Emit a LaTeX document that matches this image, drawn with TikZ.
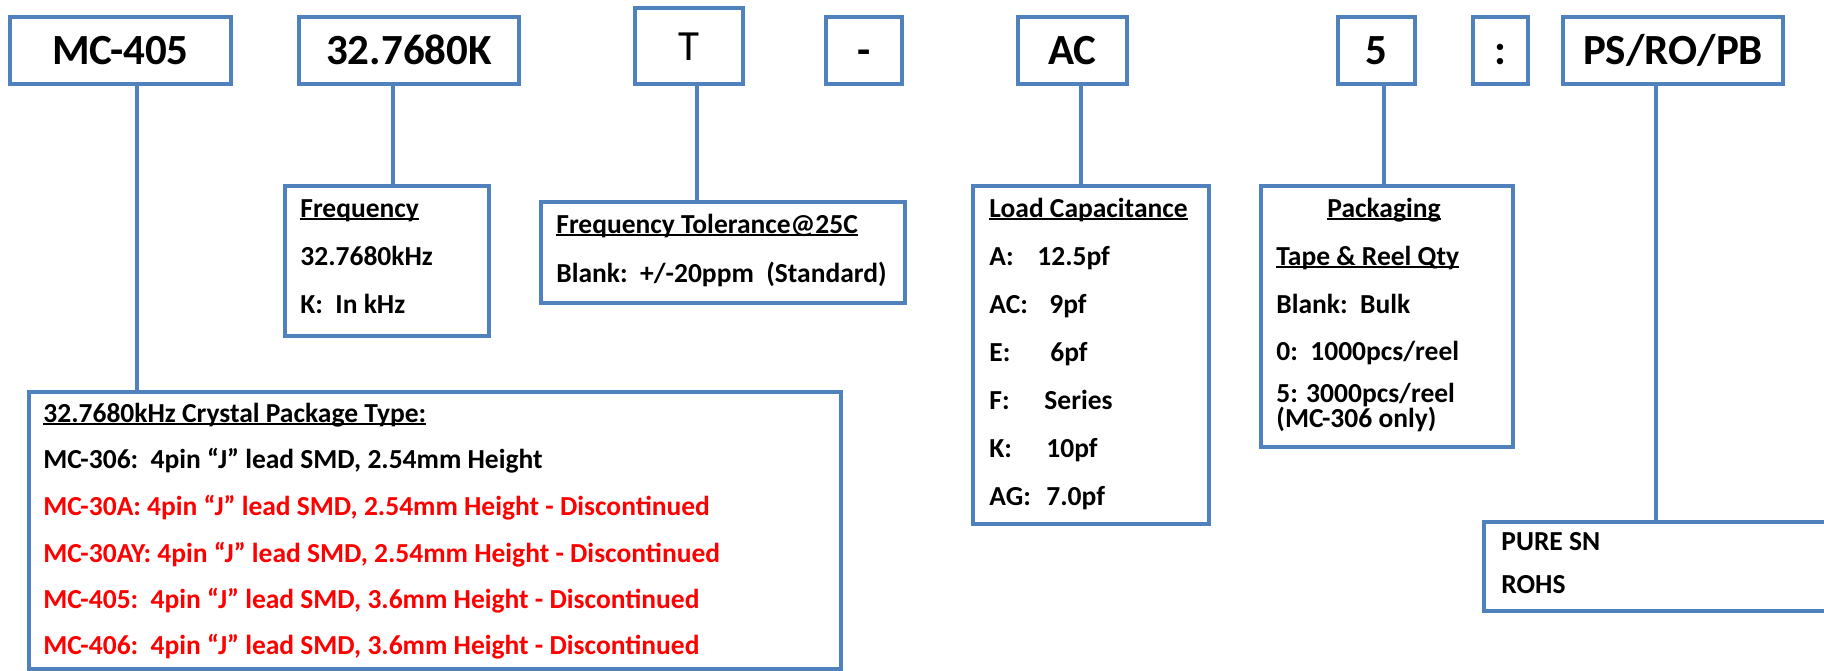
\documentclass[tikz,border=0pt]{standalone}
\usepackage{fontspec}
\setmainfont{Carlito}
\usepackage{xcolor}
\definecolor{boxblue}{HTML}{4F81BD}
\definecolor{partred}{HTML}{FF0000}
\newcommand{\ulbar}[1]{\setbox0\hbox{#1}\rlap{\rule[-1.4pt]{\wd0}{0.8pt}}\box0}

\tikzset{
  size/.style 2 args={minimum width=#1*0.5pt, minimum height=#2*0.5pt},
  codebox/.style={draw=boxblue, line width=2pt, inner sep=0pt, text height=14pt, text depth=0pt,
    font=\fontsize{21.5}{24}\selectfont\bfseries},
  infobox/.style={draw=boxblue, line width=2pt, inner sep=0pt, anchor=north west},
  tap/.style={boxblue, line width=2pt},
  entry/.style={anchor=base west, inner sep=0pt, font=\fontsize{13.75}{16}\selectfont\bfseries},
}

\begin{document}
\begin{tikzpicture}[x=0.5pt, y=-0.5pt]
    \useasboundingbox (0,0) rectangle (1824,670);
    \clip (0,0) rectangle (1824,670);

    % Part number code boxes
    \foreach \n/\t/\x/\w in {mc/MC-405/120.5/221, freqcode/32.7680K/409/220, dash/-/864/76,
        loadcode/AC/1072.5/109, packcode/5/1376.5/77, colon/:/1500.5/55, platecode/PS\slash RO\slash PB/1673/220} {
        \node[codebox, size={\w}{67}] (\n) at (\x,50.5) {\t};
    }
    \node[codebox, size={108}{76}, font=\fontsize{21.5}{24}\selectfont] (tolcode) at (689,46) {T};

    % Description boxes
    \node[infobox, size={204}{150}] (freqinfo) at (283,184) {};
    \node[infobox, size={364}{101}] (tolinfo) at (539,200) {};
    \node[infobox, size={236}{338}] (loadinfo) at (971,184) {};
    \node[infobox, size={252}{261}] (packinfo) at (1259,184) {};
    \node[infobox, size={812}{277}] (pkginfo) at (27,390) {};
    \node[infobox, size={418}{89}] (plateinfo) at (1482,520) {};

    % Connectors
    \draw[tap] (mc.south -| 137,0) -- (pkginfo.north -| 137,0);
    \draw[tap] (freqcode.south -| 393,0) -- (freqinfo.north -| 393,0);
    \draw[tap] (tolcode.south -| 697,0) -- (tolinfo.north -| 697,0);
    \draw[tap] (loadcode.south -| 1081,0) -- (loadinfo.north -| 1081,0);
    \draw[tap] (packcode.south -| 1384,0) -- (packinfo.north -| 1384,0);
    \draw[tap] (platecode.south -| 1656,0) -- (plateinfo.north -| 1656,0);

    % Frequency
    \foreach \i/\y/\t in {1/217/{\ulbar{Frequency}}, 2/265/32.7680kHz, 3/313/{K:\ \ In kHz}} {
        \node[entry] (freq\i) at (300,\y) {\t};
    }

    % Tolerance
    \node[entry] (tol1) at (556,233) {\ulbar{Frequency Tolerance@25C}};
    \node[entry] (tol2) at (556,282) {Blank:\ \ +/-20ppm\ \ (Standard)};

    % Load capacitance
    \node[entry] (load0) at (989,217) {\ulbar{Load Capacitance}};
    \foreach \i/\k/\v/\vx/\y in {1/A:/12.5pf/1037/265, 2/AC:/9pf/1049/313, 3/E:/6pf/1050/361,
        4/F:/Series/1044/409, 5/K:/10pf/1046/457, 6/AG:/7.0pf/1046/505} {
        \node[entry] (lk\i) at (989,\y) {\k};
        \node[entry] (lv\i) at (\vx,\y) {\v};
    }

    % Packaging
    \node[entry, anchor=base] (pack0) at (1384,217) {\ulbar{Packaging}};
    \foreach \i/\y/\t in {1/265/{\ulbar{Tape \& Reel Qty}}, 2/313/{Blank:\ \ Bulk}, 3/360/{0:\ \ 1000pcs/reel},
        4/402/{5: 3000pcs/reel}, 5/427/{(MC-306 only)}} {
        \node[entry] (pack\i) at (1276,\y) {\t};
    }

    % Package type
    \foreach \i/\y/\c/\t in {1/422/black/{\ulbar{32.7680kHz Crystal Package Type:}},
        2/468/black/{MC-306:\ \ 4pin “J” lead SMD, 2.54mm Height},
        3/515/partred/{MC-30A: 4pin “J” lead SMD, 2.54mm Height - Discontinued},
        4/562/partred/{MC-30AY: 4pin “J” lead SMD, 2.54mm Height - Discontinued},
        5/608/partred/{MC-405:\ \ 4pin “J” lead SMD, 3.6mm Height - Discontinued},
        6/654/partred/{MC-406:\ \ 4pin “J” lead SMD, 3.6mm Height - Discontinued}} {
        \node[entry, text=\c] (pkg\i) at (43,\y) {\t};
    }

    % Plating
    \node[entry] (plate1) at (1501,550) {PURE SN};
    \node[entry] (plate2) at (1501,593) {ROHS};
\end{tikzpicture}
\end{document}
